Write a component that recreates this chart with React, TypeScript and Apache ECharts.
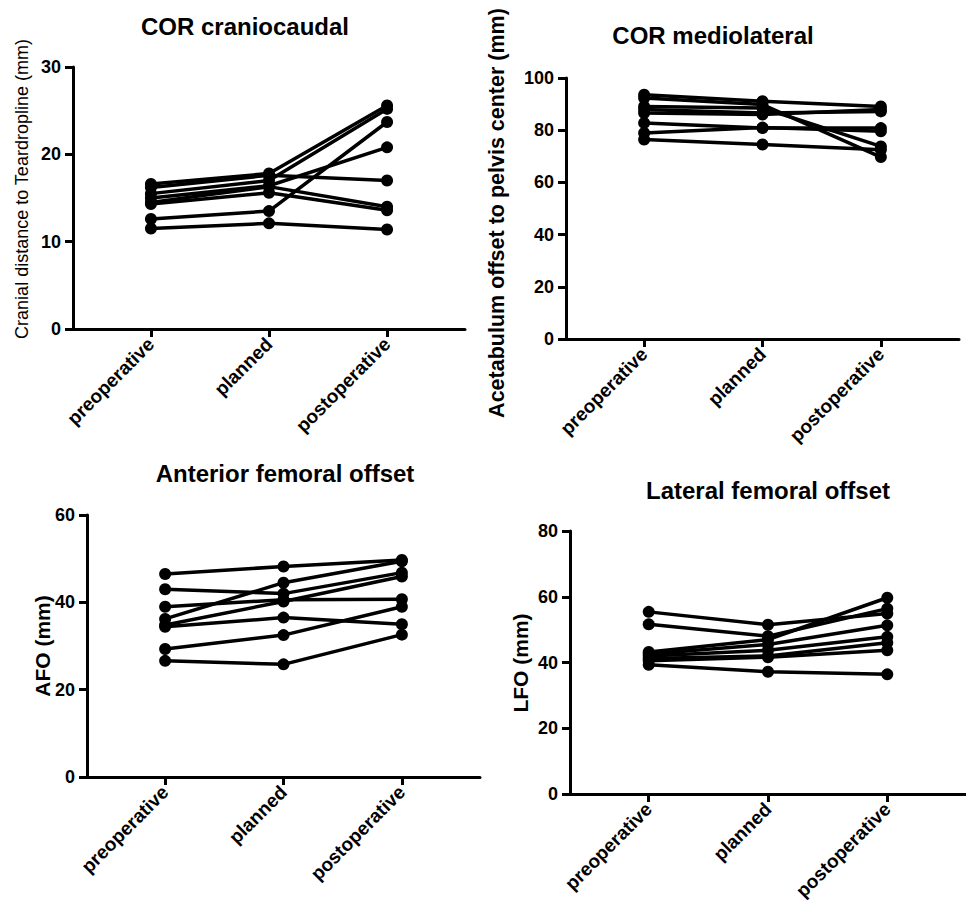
import React, { useEffect, useRef } from "react";
import * as echarts from "echarts";

const categories = ["preoperative", "planned", "postoperative"];

// each row: [preoperative, planned, postoperative]
const corCraniocaudal = [
  [16.6, 17.8, 25.6],
  [16.2, 17.6, 17.0],
  [15.5, 17.0, 25.2],
  [15.0, 16.4, 20.8],
  [14.5, 16.3, 14.0],
  [14.3, 15.6, 13.6],
  [12.6, 13.5, 23.7],
  [11.5, 12.1, 11.4],
];

const corMediolateral = [
  [93.6, 91.1, 89.1],
  [92.3, 89.8, 69.7],
  [89.1, 88.5, 73.8],
  [87.9, 86.6, 87.2],
  [86.6, 86.0, 87.9],
  [82.8, 80.8, 80.8],
  [78.9, 81.0, 79.6],
  [76.4, 74.5, 72.5],
];

const anteriorFemoralOffset = [
  [46.5, 48.2, 49.7],
  [43.0, 42.0, 46.8],
  [39.0, 40.6, 40.7],
  [36.2, 44.5, 49.4],
  [34.8, 40.2, 45.9],
  [34.4, 36.5, 35.0],
  [29.3, 32.5, 39.0],
  [26.6, 25.8, 32.6],
];

const lateralFemoralOffset = [
  [55.4, 51.5, 54.9],
  [51.6, 48.0, 56.4],
  [43.2, 47.0, 59.7],
  [42.6, 45.5, 51.3],
  [42.0, 43.7, 47.8],
  [41.2, 42.0, 46.0],
  [40.5, 41.6, 43.7],
  [39.3, 37.2, 36.4],
];

const titles = ["COR craniocaudal", "COR mediolateral", "Anterior femoral offset", "Lateral femoral offset"];
const yNames = [
  "Cranial distance to Teardropline (mm)",
  "Acetabulum offset to pelvis center (mm)",
  "AFO (mm)",
  "LFO (mm)",
];
const yMax = [30, 100, 60, 80];
const yInterval = [10, 20, 20, 20];

const FONT = '"Liberation Sans", Arial, Helvetica, sans-serif';

export default function App() {
  const ref = useRef<HTMLDivElement>(null);
  useEffect(() => {
    document.body.style.margin = "0";
    const chart = echarts.init(ref.current!, null, { renderer: "svg" });
    const panels = [corCraniocaudal, corMediolateral, anteriorFemoralOffset, lateralFemoralOffset];
    const grids = [
      { left: 73, top: 67, width: 392, height: 262 },
      { left: 566, top: 78, width: 393, height: 261 },
      { left: 87, top: 515, width: 393, height: 262 },
      { left: 570, top: 531, width: 396, height: 263 },
    ];
    const axisLine = { show: true, lineStyle: { color: "#000", width: 3 } };
    const xAxis = grids.map((_, i) => ({
      type: "value",
      gridIndex: i,
      min: -0.66,
      max: 2.66,
      splitLine: { show: false },
      axisLine: { ...axisLine, onZero: false },
      axisTick: { show: true, customValues: [0, 1, 2], length: 8, lineStyle: { color: "#000", width: 3 } },
      axisLabel: {
        customValues: [0, 1, 2],
        formatter: (v: number) => categories[Math.round(v)] ?? "",
        rotate: 45,
        margin: 12,
        color: "#000",
        fontFamily: FONT,
        fontWeight: "bold",
        fontSize: 19,
      },
    }));
    const yAxis = grids.map((_, i) => ({
      type: "value",
      gridIndex: i,
      min: 0,
      max: yMax[i],
      interval: yInterval[i],
      splitLine: { show: false },
      axisLine: { ...axisLine, onZero: false },
      axisTick: { show: true, length: 8, lineStyle: { color: "#000", width: 3 } },
      axisLabel: {
        margin: 12,
        color: "#000",
        fontFamily: FONT,
        fontWeight: "bold",
        fontSize: 18,
      },
    }));
    const series: any[] = [];
    panels.forEach((rows, p) => {
      rows.forEach((row, r) => {
        series.push({
          type: "line",
          name: `${titles[p]} ${r + 1}`,
          xAxisIndex: p,
          yAxisIndex: p,
          data: row.map((v, k) => [k, v]),
          symbol: "circle",
          symbolSize: 12,
          itemStyle: { color: "#000" },
          lineStyle: { color: "#000", width: 3.5 },
          z: 3,
        });
      });
    });
    const titlePos = [
      [245, 26],
      [713, 35],
      [285, 473],
      [768, 490],
    ];
    const namePos = [
      [22, 189, "normal", 18],
      [497, 213, "bold", 21.5],
      [42, 646, "bold", 21],
      [520, 663, "bold", 21],
    ];
    const graphic: any[] = [];
    titles.forEach((t, i) => {
      graphic.push({
        type: "text",
        x: titlePos[i][0],
        y: titlePos[i][1],
        style: {
          text: t,
          fontFamily: FONT,
          fontWeight: "bold",
          fontSize: 24,
          fill: "#000",
          align: "center",
          verticalAlign: "middle",
        },
      });
    });
    yNames.forEach((t, i) => {
      const [x, y, w, s] = namePos[i] as [number, number, string, number];
      graphic.push({
        type: "text",
        x,
        y,
        rotation: Math.PI / 2,
        style: {
          text: t,
          fontFamily: FONT,
          fontWeight: w,
          fontSize: s,
          fill: "#000",
          align: "center",
          verticalAlign: "middle",
        },
      });
    });
    chart.setOption({
      animation: false,
      backgroundColor: "#fff",
      grid: grids,
      xAxis,
      yAxis,
      series,
      graphic,
    });
    return () => chart.dispose();
  }, []);
  return <div ref={ref} style={{ width: 966, height: 914 }} />;
}
